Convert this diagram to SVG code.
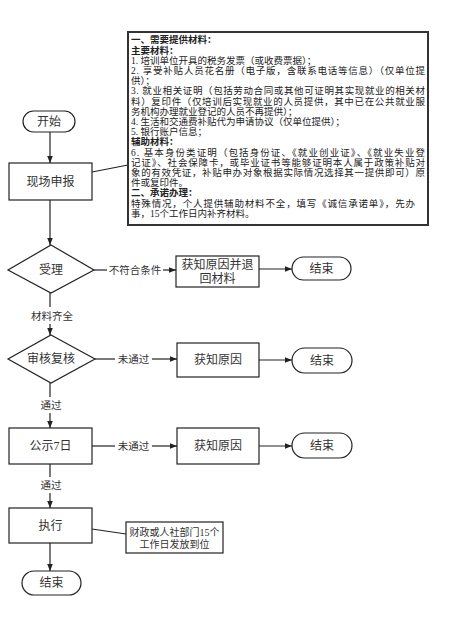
<svg xmlns="http://www.w3.org/2000/svg" width="456" height="625" viewBox="0 0 456 625">
<style>
  .shape{fill:#fff;stroke:#222;stroke-width:1.2}
  .ln{fill:none;stroke:#222;stroke-width:1.2}
  .lbl{font-family:"Liberation Serif","Noto Sans CJK SC",serif;font-size:12px;fill:#333;text-anchor:middle;dominant-baseline:central}
  .elbl{font-family:"Liberation Serif","Noto Sans CJK SC",serif;font-size:10.5px;fill:#333;text-anchor:middle;dominant-baseline:central}
  .note{font-family:"Liberation Serif","Noto Sans CJK SC",serif;font-size:10px;fill:#333;text-anchor:middle;dominant-baseline:central}
  .bt{font-family:"Liberation Serif","Noto Sans CJK SC",serif;font-size:9.5px;fill:#222}
  .b{font-weight:bold}
</style>
<defs>
  <marker id="ah" viewBox="0 0 10 10" refX="10" refY="5" markerWidth="7" markerHeight="7" markerUnits="userSpaceOnUse" orient="auto">
    <path d="M0,1 L10,5 L0,9 z" fill="#222"/>
  </marker>
</defs>
<rect width="456" height="625" fill="#fff"/>

<g id="connectors">
  <line class="ln" x1="50" y1="132" x2="50" y2="163" marker-end="url(#ah)"/>
  <line class="ln" x1="92" y1="172" x2="128" y2="165"/>
  <line class="ln" x1="50" y1="200" x2="50" y2="245" marker-end="url(#ah)"/>
  <line class="ln" x1="94" y1="270" x2="107" y2="270"/>
  <line class="ln" x1="163" y1="270" x2="176" y2="270" marker-end="url(#ah)"/>
  <line class="ln" x1="259" y1="269" x2="292" y2="269" marker-end="url(#ah)"/>
  <line class="ln" x1="50" y1="293" x2="50" y2="307"/>
  <line class="ln" x1="50" y1="324" x2="50" y2="335" marker-end="url(#ah)"/>
  <line class="ln" x1="95" y1="359" x2="115" y2="359"/>
  <line class="ln" x1="152" y1="359" x2="177" y2="359" marker-end="url(#ah)"/>
  <line class="ln" x1="259" y1="360" x2="292" y2="360" marker-end="url(#ah)"/>
  <line class="ln" x1="50" y1="383" x2="50" y2="397"/>
  <line class="ln" x1="50" y1="413" x2="50" y2="428" marker-end="url(#ah)"/>
  <line class="ln" x1="92" y1="446" x2="115" y2="446"/>
  <line class="ln" x1="152" y1="446" x2="177" y2="446" marker-end="url(#ah)"/>
  <line class="ln" x1="259" y1="446" x2="292" y2="446" marker-end="url(#ah)"/>
  <line class="ln" x1="50" y1="464" x2="50" y2="477"/>
  <line class="ln" x1="50" y1="493" x2="50" y2="508" marker-end="url(#ah)"/>
  <line class="ln" x1="92" y1="529" x2="126" y2="534"/>
  <line class="ln" x1="50" y1="543" x2="50" y2="571" marker-end="url(#ah)"/>
  <text class="elbl" x="135" y="270">不符合条件</text>
  <text class="elbl" x="52" y="316">材料齐全</text>
  <text class="elbl" x="133.5" y="359">未通过</text>
  <text class="elbl" x="51" y="405">通过</text>
  <text class="elbl" x="133.5" y="446">未通过</text>
  <text class="elbl" x="51" y="485">通过</text>
</g>

<g id="start">
  <rect class="shape" x="23" y="111" width="52" height="21" rx="10.5"/>
  <text class="lbl" x="49" y="121.5">开始</text>
</g>

<g id="apply">
  <rect class="shape" x="9" y="163" width="83" height="37"/>
  <text class="lbl" x="50.5" y="182">现场申报</text>
</g>

<g id="materials">
  <rect x="128" y="32" width="300" height="193" fill="#fff" stroke="#333" stroke-width="2"/>
  <text class="bt b" x="131" y="43.3">一、需要提供材料：</text>
  <text class="bt b" x="131" y="53.5">主要材料：</text>
  <text class="bt" x="131" y="63.7">1. 培训单位开具的税务发票（或收费票据）；</text>
  <text class="bt" x="131" y="73.9" textLength="294" lengthAdjust="spacing">2. 享受补贴人员花名册（电子版，含联系电话等信息）（仅单位提</text>
  <text class="bt" x="131" y="84.1">供）；</text>
  <text class="bt" x="131" y="94.3" textLength="294" lengthAdjust="spacing">3. 就业相关证明（包括劳动合同或其他可证明其实现就业的相关材</text>
  <text class="bt" x="131" y="104.5" textLength="294" lengthAdjust="spacing">料）复印件（仅培训后实现就业的人员提供，其中已在公共就业服</text>
  <text class="bt" x="131" y="114.7">务机构办理就业登记的人员不再提供）；</text>
  <text class="bt" x="131" y="124.9">4. 生活和交通费补贴代为申请协议（仅单位提供）；</text>
  <text class="bt" x="131" y="135.1">5. 银行账户信息；</text>
  <text class="bt b" x="131" y="145.3">辅助材料：</text>
  <text class="bt" x="131" y="155.5" textLength="294" lengthAdjust="spacing">6. 基本身份类证明（包括身份证、《就业创业证》、《就业失业登</text>
  <text class="bt" x="131" y="165.7" textLength="294" lengthAdjust="spacing">记证》、社会保障卡，或毕业证书等能够证明本人属于政策补贴对</text>
  <text class="bt" x="131" y="175.9" textLength="294" lengthAdjust="spacing">象的有效凭证，补贴申办对象根据实际情况选择其一提供即可）原</text>
  <text class="bt" x="131" y="186.1">件或复印件。</text>
  <text class="bt b" x="131" y="196.3">二、承诺办理：</text>
  <text class="bt" x="131" y="206.5" textLength="284" lengthAdjust="spacing">特殊情况，个人提供辅助材料不全，填写《诚信承诺单》，先办</text>
  <text class="bt" x="131" y="216.7">事，15个工作日内补齐材料。</text>
</g>

<g id="accept">
  <polygon class="shape" points="51,245 94,270 51,293 8,270"/>
  <text class="lbl" x="51" y="270">受理</text>
</g>

<g id="reason1">
  <rect class="shape" x="176" y="256" width="83" height="31"/>
  <text class="lbl" x="217.5" y="265">获知原因并退</text>
  <text class="lbl" x="217.5" y="279">回材料</text>
</g>

<g id="end1">
  <rect class="shape" x="292" y="257" width="59" height="23" rx="11.5"/>
  <text class="lbl" x="321.5" y="268.5">结束</text>
</g>

<g id="review">
  <polygon class="shape" points="51,335 95,359 51,383 8,359"/>
  <text class="lbl" x="51" y="359">审核复核</text>
</g>

<g id="reason2">
  <rect class="shape" x="177" y="343" width="82" height="34"/>
  <text class="lbl" x="218" y="360">获知原因</text>
</g>

<g id="end2">
  <rect class="shape" x="292" y="348" width="60" height="25" rx="12.5"/>
  <text class="lbl" x="322" y="360.5">结束</text>
</g>

<g id="publicity">
  <rect class="shape" x="9" y="428" width="83" height="36"/>
  <text class="lbl" x="50.5" y="446">公示7日</text>
</g>

<g id="reason3">
  <rect class="shape" x="177" y="428" width="82" height="36"/>
  <text class="lbl" x="218" y="446">获知原因</text>
</g>

<g id="end3">
  <rect class="shape" x="292" y="433" width="60" height="25" rx="12.5"/>
  <text class="lbl" x="322" y="445.5">结束</text>
</g>

<g id="execute">
  <rect class="shape" x="9" y="508" width="83" height="35"/>
  <text class="lbl" x="50.5" y="525.5">执行</text>
</g>

<g id="payout">
  <rect class="shape" x="126" y="522" width="97" height="31"/>
  <text class="note" x="174.5" y="532">财政或人社部门15个</text>
  <text class="note" x="174.5" y="544">工作日发放到位</text>
</g>

<g id="end4">
  <rect class="shape" x="22" y="571" width="59" height="24" rx="12"/>
  <text class="lbl" x="51.5" y="583">结束</text>
</g>
</svg>
